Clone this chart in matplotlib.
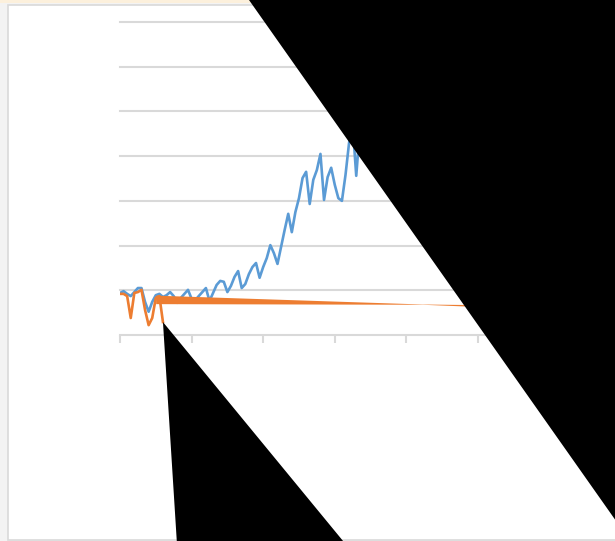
import matplotlib
matplotlib.use('Agg')
import matplotlib.pyplot as plt
from matplotlib.patches import Rectangle
import numpy as np

# ---- data (series values) ----
blue_values = [940, 980, 920, 870, 960, 1050, 1050, 740, 520, 740,
               890, 920, 850, 890, 960, 870, 720, 830, 920, 1010,
               810, 780, 870, 960, 1050, 760, 940, 1120, 1210, 1190,
               960, 1100, 1300, 1430, 1050, 1140, 1360, 1520, 1610, 1280,
               1520, 1720, 2010, 1830, 1590, 1970, 2350, 2710, 2300, 2750,
               3060, 3510, 3650, 2930, 3470, 3690, 4050, 3020, 3530, 3740,
               3360, 3060, 3000, 3580, 4300, 4700, 3560, 4590]
orange_values = [920, 920, 870, 380, 940, 960, 1010, 560, 220, 380,
                 830, 870, 290]

# glitched "tail" of the orange series (thin wedge)
orange_tail_x = [10.1, 84.6, 96.4, 96.4, 84.6, 10.1]
orange_tail_y = [880, 682, 671, 638, 676, 690]

# black filled artefact shapes (data coordinates)
black_upper_x = [36.0, 145.3, 145.3]
black_upper_y = [7494, 7494, -4922]
black_lower_x = [12.0, 16.2, 66.7]
black_lower_y = [290, -5034, -5034]

x_ticks = [0, 20, 40, 60, 80, 100, 120]
y_grid = [1000, 2000, 3000, 4000, 5000, 6000, 7000]

W, H = 615, 541
fig = plt.figure(figsize=(W / 100, H / 100), dpi=100, facecolor='#f3f3f3')

def fx(p):
    return p / W

def fy(p):
    return 1 - p / H

# frame decorations (behind the axes)
fig.add_artist(Rectangle((0, fy(3)), 1, 3 / H, transform=fig.transFigure,
                         facecolor='#fcf0dc', edgecolor='none', zorder=-3))
fig.add_artist(Rectangle((fx(7.5), fy(539.5)), (700 - 7.5) / W, (539.5 - 4.5) / H,
                         transform=fig.transFigure, facecolor='white',
                         edgecolor='#d9d9d9', lw=1.2, zorder=-2))

ax = fig.add_axes([fx(120), fy(335), (600 - 120) / W, (335 - 22) / H])
ax.set_zorder(1)
ax.set_facecolor('none')
ax.set_xlim(0, 134.1)
ax.set_ylim(0, 7000)

for s in ['top', 'right', 'left']:
    ax.spines[s].set_visible(False)
ax.spines['bottom'].set_color('#d9d9d9')
ax.spines['bottom'].set_linewidth(1.5)

ax.set_xticks(x_ticks)
ax.set_xticklabels([])
ax.tick_params(axis='x', length=6, width=1.5, color='#d9d9d9', direction='out')
ax.set_yticks(y_grid)
ax.set_yticklabels([])
ax.tick_params(axis='y', length=0)
ax.yaxis.grid(True, color='#d9d9d9', linewidth=1.5)
ax.set_axisbelow(True)
for gl in ax.get_ygridlines():
    gl.set_clip_on(False)

ax.plot(np.arange(len(blue_values)), blue_values, color='#5b9bd5', lw=1.9,
        zorder=3, solid_joinstyle='round')
ax.plot(np.arange(len(orange_values)), orange_values, color='#ed7d31', lw=1.9,
        zorder=4, solid_joinstyle='round')
ax.fill(orange_tail_x, orange_tail_y, color='#ed7d31', lw=0, zorder=4)

ax.fill(black_upper_x, black_upper_y, color='black', lw=0, zorder=10, clip_on=False)
ax.fill(black_lower_x, black_lower_y, color='black', lw=0, zorder=10, clip_on=False)

fig.savefig('out.png', dpi=100, facecolor=fig.get_facecolor())
